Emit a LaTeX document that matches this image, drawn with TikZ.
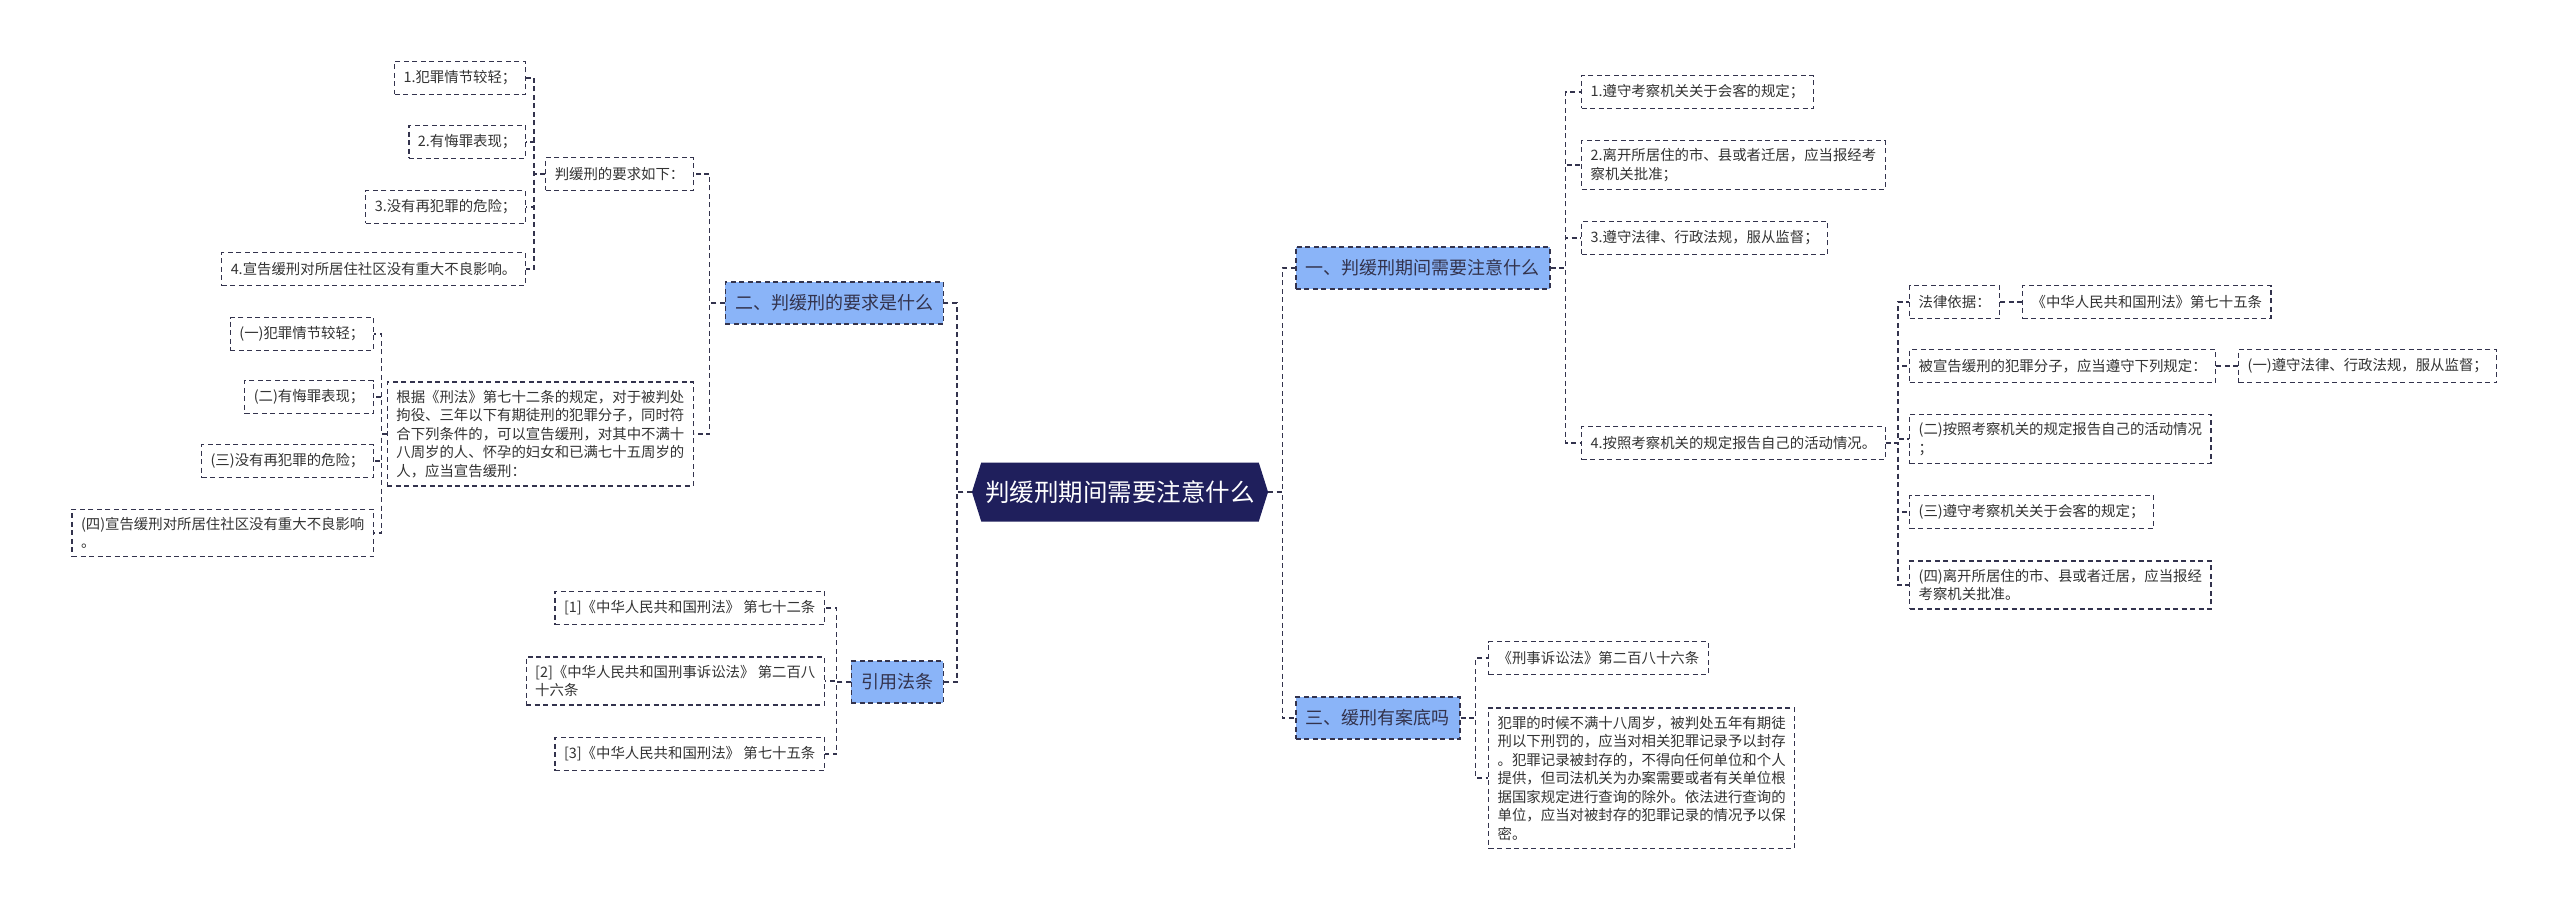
\documentclass[tikz,border=0pt]{standalone}
\usepackage{fontspec}
\setmainfont{Noto Sans CJK SC}
\usetikzlibrary{shapes.symbols}
\definecolor{navy}{HTML}{1F1F5C}
\definecolor{branchblue}{HTML}{8AB4F8}
\definecolor{edge}{HTML}{33334D}
\definecolor{leaftext}{HTML}{333333}

\begin{document}
\begin{tikzpicture}[x=1pt,y=-1pt,
    dashes/.style={dash pattern=on 5pt off 3.5pt},
    link/.style={draw=edge,line width=1.5pt,dashes},
    leafbox/.style={draw=edge,line width=1.3pt,dashes,text=leaftext,font=\fontsize{14.4}{18.5}\selectfont,align=left,inner xsep=9pt,inner ysep=8pt,minimum height=33pt},
    branchbox/.style={fill=branchblue,draw=edge,line width=1.5pt,dashes,text=edge,font=\fontsize{18}{22}\selectfont,inner xsep=10pt,minimum height=42pt},
    topicbox/.style={signal,signal to=west and east,signal pointer angle=145,fill=navy,text=white,font=\fontsize{24.5}{28}\selectfont,inner xsep=4pt,minimum height=59pt}]
    \fill[white] (0,0) rectangle (2560,912);
    \useasboundingbox (0,0) rectangle (2560,912);

    \node[topicbox] (root) at (1120,492) {判缓刑期间需要注意什么};

    % left side
    \node[branchbox,anchor=east] (b2) at (944,303) {二、判缓刑的要求是什么};
    \node[branchbox,anchor=east] (b4) at (944,682) {引用法条};

    \node[leafbox,anchor=east] (l21) at (694,174) {判缓刑的要求如下：};
    \node[leafbox,anchor=east] (l22) at (694,434) {根据《刑法》第七十二条的规定，对于被判处\\拘役、三年以下有期徒刑的犯罪分子，同时符\\合下列条件的，可以宣告缓刑，对其中不满十\\八周岁的人、怀孕的妇女和已满七十五周岁的\\人，应当宣告缓刑：};

    \node[leafbox,anchor=east] (l211) at (526,78) {1.犯罪情节较轻；};
    \node[leafbox,anchor=east] (l212) at (526,142) {2.有悔罪表现；};
    \node[leafbox,anchor=east] (l213) at (526,207) {3.没有再犯罪的危险；};
    \node[leafbox,anchor=east] (l214) at (526,269) {4.宣告缓刑对所居住社区没有重大不良影响。};

    \node[leafbox,anchor=east] (l221) at (374,334) {(一)犯罪情节较轻；};
    \node[leafbox,anchor=east] (l222) at (374,397) {(二)有悔罪表现；};
    \node[leafbox,anchor=east] (l223) at (374,461) {(三)没有再犯罪的危险；};
    \node[leafbox,anchor=east] (l224) at (374,533) {(四)宣告缓刑对所居住社区没有重大不良影响\\。};

    \node[leafbox,anchor=east] (l41) at (825,608) {[1]《中华人民共和国刑法》 第七十二条};
    \node[leafbox,anchor=east] (l42) at (825,681) {[2]《中华人民共和国刑事诉讼法》 第二百八\\十六条};
    \node[leafbox,anchor=east] (l43) at (825,754) {[3]《中华人民共和国刑法》 第七十五条};

    % right side
    \node[branchbox,anchor=west] (b1) at (1295,268) {一、判缓刑期间需要注意什么};
    \node[branchbox,anchor=west] (b3) at (1295,718) {三、缓刑有案底吗};

    \node[leafbox,anchor=west] (l11) at (1581,92) {1.遵守考察机关关于会客的规定；};
    \node[leafbox,anchor=west] (l12) at (1581,165) {2.离开所居住的市、县或者迁居，应当报经考\\察机关批准；};
    \node[leafbox,anchor=west] (l13) at (1581,238) {3.遵守法律、行政法规，服从监督；};
    \node[leafbox,anchor=west] (l14) at (1581,443) {4.按照考察机关的规定报告自己的活动情况。};

    \node[leafbox,anchor=west] (l141) at (1909,302) {法律依据：};
    \node[leafbox,anchor=west] (l1411) at (2022,302) {《中华人民共和国刑法》第七十五条};
    \node[leafbox,anchor=west] (l142) at (1909,366) {被宣告缓刑的犯罪分子，应当遵守下列规定：};
    \node[leafbox,anchor=west] (l1421) at (2238,366) {(一)遵守法律、行政法规，服从监督；};
    \node[leafbox,anchor=west] (l143) at (1909,439) {(二)按照考察机关的规定报告自己的活动情况\\；};
    \node[leafbox,anchor=west] (l144) at (1909,512) {(三)遵守考察机关关于会客的规定；};
    \node[leafbox,anchor=west] (l145) at (1909,585) {(四)离开所居住的市、县或者迁居，应当报经\\考察机关批准。};

    \node[leafbox,anchor=west] (l31) at (1488,658) {《刑事诉讼法》第二百八十六条};
    \node[leafbox,anchor=west] (l32) at (1488,778) {犯罪的时候不满十八周岁，被判处五年有期徒\\刑以下刑罚的，应当对相关犯罪记录予以封存\\。犯罪记录被封存的，不得向任何单位和个人\\提供，但司法机关为办案需要或者有关单位根\\据国家规定进行查询的除外。依法进行查询的\\单位，应当对被封存的犯罪记录的情况予以保\\密。};

    % connectors
    \foreach \c in {b2,b4} \draw[link] (root.west) -- ++(-15,0) |- (\c.east);
    \foreach \c in {b1,b3} \draw[link] (root.east) -- ++(14,0) |- (\c.west);
    \foreach \c in {l21,l22} \draw[link] (b2.west) -- ++(-15,0) |- (\c.east);
    \foreach \c in {l211,l212,l213,l214} \draw[link] (l21.west) -- ++(-11,0) |- (\c.east);
    \foreach \c in {l221,l222,l223,l224} \draw[link] (l22.west) -- ++(-5,0) |- (\c.east);
    \foreach \c in {l41,l42,l43} \draw[link] (b4.west) -- ++(-14,0) |- (\c.east);
    \foreach \c in {l11,l12,l13,l14} \draw[link] (b1.east) -- ++(15,0) |- (\c.west);
    \foreach \c in {l141,l142,l143,l144,l145} \draw[link] (l14.east) -- ++(12,0) |- (\c.west);
    \draw[link] (l141) -- (l1411);
    \draw[link] (l142) -- (l1421);
    \foreach \c in {l31,l32} \draw[link] (b3.east) -- ++(15,0) |- (\c.west);
\end{tikzpicture}
\end{document}
